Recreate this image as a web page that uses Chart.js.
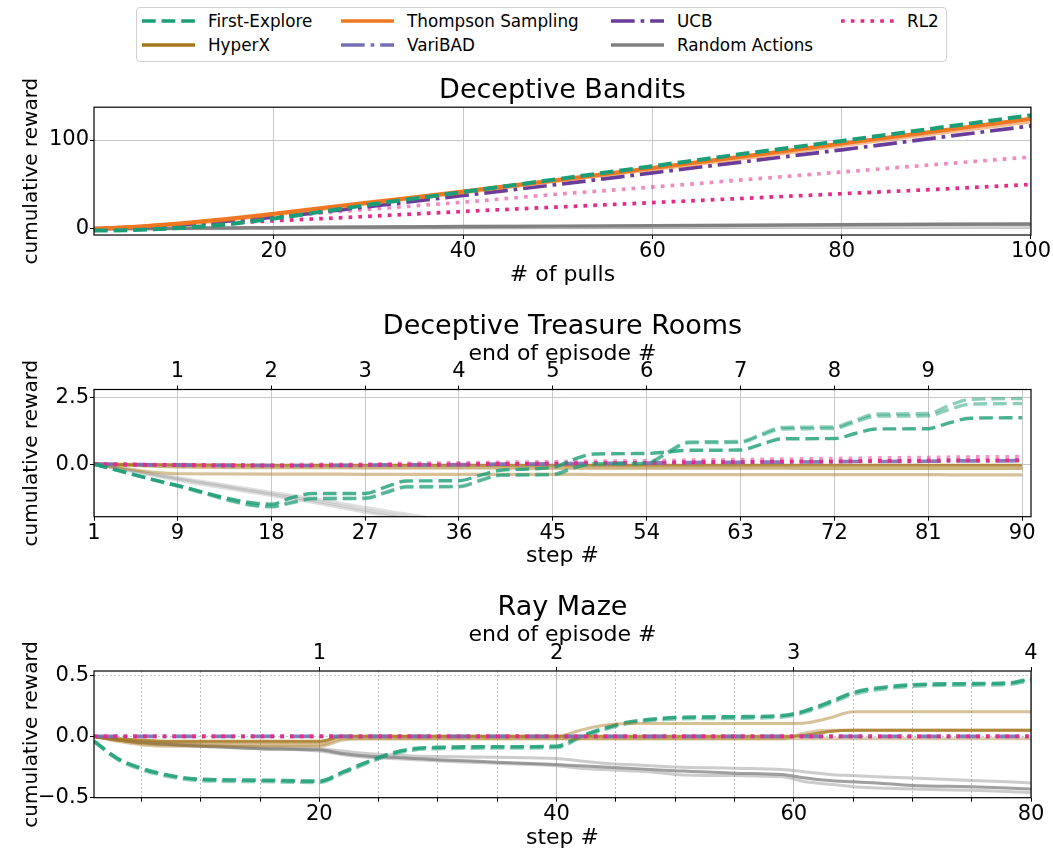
<!DOCTYPE html>
<html>
<head>
<meta charset="utf-8">
<script src="https://cdn.jsdelivr.net/npm/chart.js@4.4.1/dist/chart.umd.min.js"></script>
<style>
  html, body { margin: 0; padding: 0; background: #fff; overflow: hidden; width: 1053px; height: 849px; }
  body { position: relative; font-family: 'DejaVu Sans', sans-serif; }
  canvas { position: absolute; left: 0; }
  #legend { position: absolute; left: 136px; top: 7px; width: 809px; height: 53px;
            border: 1px solid #d0d0d0; border-radius: 4px; background: #fff; }
  .item { position: absolute; height: 20px; display: flex; align-items: center;
          font-size: 16.8px; white-space: nowrap; color: #000; }
  .item svg { margin-right: 13px; }
</style>
</head>
<body>
<div id="legend"></div>
<canvas id="bandits" width="1053" height="223" style="top:67px"></canvas>
<canvas id="rooms" width="1053" height="279" style="top:296px"></canvas>
<canvas id="maze" width="1053" height="286" style="top:576px"></canvas>
<script>
// ---- Deceptive Bandits ----
const pulls = [1, 5, 10, 15, 20, 30, 40, 50, 60, 70, 80, 90, 100];
const banditFirstExplore = [-2, -1.5, 1, 5, 11.5, 27, 41.5, 56, 70.5, 85, 99, 113.5, 128];
const banditThompson = [0, 2, 6, 11, 17, 29.5, 42, 55, 68.5, 82, 96, 110, 124];
const banditThompsonB = [0, 2, 5.5, 10, 16, 28.5, 41, 54, 67, 80, 94, 107.5, 121];
const banditUcb = [0, 1.5, 4.5, 8.5, 13, 25, 37.5, 50, 63, 76, 89, 102.5, 116];
const banditRl2A = [0, 2, 5, 9, 13.5, 22, 30, 39, 47, 55.5, 64, 72.5, 81];
const banditRl2B = [0, 1.5, 4, 6.5, 9, 14, 19.5, 24.5, 29.5, 34.5, 39.5, 44.5, 50];
const banditRandom = [0, 0.3, 0.6, 1, 1.3, 2, 2.5, 3, 3.5, 4, 4.5, 5, 5.5];
const banditRandomB = [0, 0.1, 0.3, 0.4, 0.6, 0.9, 1.2, 1.5, 1.8, 2.1, 2.4, 2.7, 3];
const pullTicks = [20, 40, 60, 80, 100];
const banditRewardTicks = [0, 100];

// ---- Deceptive Treasure Rooms ----
const roomSteps = [1, 9, 18, 20, 22, 27, 29, 31, 36, 38, 40, 45, 47, 49, 54, 56, 58, 63, 65, 67, 72, 74, 76, 81, 83, 85, 90];
const roomFirstExploreA = [0, -0.8, -1.5, -1.25, -1.1, -1.1, -0.85, -0.63, -0.62, -0.42, -0.23, -0.12, 0.18, 0.38, 0.4, 0.46, 0.52, 0.53, 0.75, 0.95, 0.96, 1.15, 1.32, 1.33, 1.55, 1.72, 1.74];
const roomFirstExploreB = [0, -0.82, -1.6, -1.45, -1.3, -1.29, -1.07, -0.86, -0.85, -0.63, -0.42, -0.4, -0.15, 0.02, 0.04, 0.45, 0.83, 0.85, 1.13, 1.38, 1.4, 1.65, 1.88, 1.9, 2.2, 2.43, 2.46];
const roomFirstExploreC = [0, -0.8, -1.58, -1.42, -1.28, -1.27, -1.05, -0.84, -0.83, -0.6, -0.4, -0.38, -0.13, 0.0, 0.02, 0.42, 0.8, 0.82, 1.08, 1.32, 1.34, 1.58, 1.8, 1.81, 2.05, 2.25, 2.27];
const roomRandomA = [0, -0.55, -1.12, -1.25, -1.37, -1.72, -1.85, -1.97, -2.3, -2.42, -2.55, -2.85, -2.97, -3.1, -3.4, -3.5, -3.62, -3.9, -4.0, -4.1, -4.4, -4.5, -4.6, -4.9, -5.0, -5.1, -5.4];
const roomRandomB = [0, -0.5, -1.05, -1.17, -1.29, -1.62, -1.75, -1.87, -2.2, -2.32, -2.45, -2.75, -2.87, -3.0, -3.3, -3.4, -3.52, -3.8, -3.9, -4.0, -4.3, -4.4, -4.5, -4.8, -4.9, -5.0, -5.3];
const roomRandomC = [0, -0.6, -1.18, -1.31, -1.44, -1.8, -1.93, -2.05, -2.4, -2.52, -2.65, -2.95, -3.07, -3.2, -3.5, -3.6, -3.72, -4.0, -4.1, -4.2, -4.5, -4.6, -4.7, -5.0, -5.1, -5.2, -5.5];
const roomHyperA = [0, -0.03, -0.04, -0.04, -0.04, -0.04, -0.04, -0.04, -0.04, -0.04, -0.04, -0.04, -0.04, -0.04, -0.04, -0.04, -0.04, -0.04, -0.04, -0.04, -0.04, -0.04, -0.04, -0.04, -0.04, -0.04, -0.04];
const roomHyperB = [0, -0.1, -0.13, -0.13, -0.13, -0.14, -0.14, -0.14, -0.14, -0.14, -0.14, -0.15, -0.15, -0.15, -0.15, -0.15, -0.15, -0.15, -0.15, -0.15, -0.16, -0.16, -0.16, -0.16, -0.16, -0.16, -0.16];
const roomHyperC = [0, -0.36, -0.37, -0.37, -0.37, -0.38, -0.38, -0.38, -0.38, -0.38, -0.38, -0.38, -0.38, -0.39, -0.39, -0.39, -0.39, -0.39, -0.39, -0.39, -0.39, -0.39, -0.39, -0.39, -0.4, -0.4, -0.4];
const roomVariBad = [0, -0.03, -0.05, -0.05, -0.05, -0.04, -0.03, -0.03, -0.02, -0.01, 0, 0.01, 0.02, 0.03, 0.04, 0.05, 0.06, 0.07, 0.08, 0.08, 0.09, 0.1, 0.1, 0.11, 0.12, 0.12, 0.13];
const roomRl2A = [0, -0.04, -0.06, -0.06, -0.05, -0.04, -0.03, -0.02, -0.01, 0, 0.01, 0.02, 0.03, 0.04, 0.05, 0.06, 0.07, 0.08, 0.09, 0.1, 0.1, 0.11, 0.12, 0.13, 0.14, 0.14, 0.15];
const roomRl2B = [0, -0.02, -0.03, -0.02, -0.01, 0, 0.02, 0.03, 0.05, 0.06, 0.07, 0.09, 0.1, 0.11, 0.13, 0.14, 0.15, 0.17, 0.18, 0.19, 0.21, 0.22, 0.23, 0.25, 0.26, 0.27, 0.28];
const roomStepTicks = [1, 9, 18, 27, 36, 45, 54, 63, 72, 81, 90];
const roomEpisodeTicks = [9, 18, 27, 36, 45, 54, 63, 72, 81];
const roomEpisodeLabels = ['1', '2', '3', '4', '5', '6', '7', '8', '9'];
const roomRewardTicks = [0, 2.5];

// ---- Ray Maze ----
const mazeSteps = [1, 3, 5, 8, 10, 15, 20, 22, 24, 26, 28, 30, 35, 40, 42, 44, 46, 48, 50, 55, 59, 61, 63, 65, 67, 70, 75, 78, 80];
const mazeFirstExploreA = [-0.04, -0.18, -0.26, -0.33, -0.35, -0.357, -0.365, -0.29, -0.21, -0.14, -0.1, -0.09, -0.085, -0.08, 0.0, 0.065, 0.115, 0.14, 0.154, 0.16, 0.17, 0.21, 0.28, 0.356, 0.394, 0.42, 0.43, 0.435, 0.47];
const mazeFirstExploreB = [-0.04, -0.19, -0.27, -0.34, -0.36, -0.368, -0.375, -0.3, -0.22, -0.15, -0.11, -0.1, -0.095, -0.09, -0.012, 0.055, 0.105, 0.13, 0.142, 0.148, 0.158, 0.198, 0.266, 0.342, 0.38, 0.408, 0.418, 0.423, 0.455];
const mazeHyperA = [0, -0.03, -0.05, -0.05, -0.05, -0.05, -0.05, 0, 0, 0, 0, 0, 0, 0, 0.05, 0.09, 0.105, 0.105, 0.105, 0.105, 0.105, 0.11, 0.15, 0.2, 0.2, 0.2, 0.2, 0.2, 0.2];
const mazeHyperB = [0, -0.02, -0.03, -0.04, -0.04, -0.04, -0.04, 0, 0, 0, 0, 0, 0, 0, 0, 0, 0, 0, 0, 0, 0, 0.01, 0.04, 0.05, 0.05, 0.05, 0.05, 0.05, 0.05];
const mazeHyperC = [0, -0.04, -0.07, -0.08, -0.08, -0.08, -0.08, -0.03, -0.02, -0.02, -0.02, -0.02, -0.02, -0.02, -0.02, -0.02, -0.02, -0.02, -0.02, -0.02, -0.02, 0.03, 0.05, 0.05, 0.05, 0.05, 0.05, 0.05, 0.05];
const mazeHyperD = [0, -0.03, -0.06, -0.07, -0.07, -0.07, -0.07, -0.02, -0.02, -0.02, -0.02, -0.02, -0.02, -0.02, -0.02, -0.02, -0.02, -0.02, -0.02, -0.02, -0.02, -0.02, -0.02, -0.02, -0.02, -0.02, -0.02, -0.02, -0.02];
const mazeRandomA = [0, -0.02, -0.04, -0.06, -0.07, -0.09, -0.1, -0.12, -0.14, -0.15, -0.16, -0.165, -0.17, -0.18, -0.2, -0.22, -0.23, -0.24, -0.25, -0.26, -0.27, -0.29, -0.31, -0.32, -0.33, -0.34, -0.36, -0.37, -0.38];
const mazeRandomB = [0, -0.03, -0.05, -0.07, -0.08, -0.1, -0.11, -0.14, -0.16, -0.17, -0.18, -0.19, -0.21, -0.23, -0.24, -0.25, -0.26, -0.27, -0.28, -0.3, -0.31, -0.34, -0.36, -0.37, -0.38, -0.4, -0.41, -0.42, -0.43];
const mazeRandomC = [0, -0.03, -0.05, -0.07, -0.08, -0.1, -0.12, -0.15, -0.17, -0.18, -0.19, -0.2, -0.22, -0.24, -0.26, -0.27, -0.28, -0.29, -0.31, -0.32, -0.33, -0.37, -0.39, -0.41, -0.42, -0.43, -0.44, -0.45, -0.46];
const mazeVariBad = [0, 0, 0, 0, 0, 0, 0, 0, 0, 0, 0, 0, 0, 0, 0, 0, 0, 0, 0, 0, 0, 0, 0, 0, 0, 0, 0, 0, 0];
const mazeRl2 = [0, 0, 0, 0, 0, 0, 0, 0, 0, 0, 0, 0, 0, 0, 0, 0, 0, 0, 0, 0, 0, 0, 0, 0, 0, 0, 0, 0, 0];
const mazeStepTicks = [5, 10, 15, 20, 25, 30, 35, 40, 45, 50, 55, 60, 65, 70, 75, 80];
const mazeStepLabelTicks = [20, 40, 60, 80];
const mazeEpisodeTicks = [20, 40, 60, 80];
const mazeEpisodeLabels = ['1', '2', '3', '4'];
const mazeRewardTicks = [-0.5, 0, 0.5];

// ---- styles ----
const COLORS = {
  fe: '#1b9e77', ts: '#ef7721', ucb: '#6a3d9a', rl2: '#e7298a',
  hyperx: '#a6761d', varibad: '#7570b3', random: '#808080'
};
const DASHED = [13.7, 5.9];
const DASHDOT = [23.7, 5.9, 3.7, 5.9];
const DOTTED = [3.7, 6.1];
const GRID = '#c8c8c8';
const TICK_FONT = { size: 21, lineHeight: 1.0 };
const AXIS_TITLE_FONT = { size: 22, lineHeight: 1.0 };

Chart.defaults.font.family = "'DejaVu Sans', sans-serif";
Chart.defaults.color = '#000';

function fade(hex, a) {
  const n = parseInt(hex.slice(1), 16);
  return `rgba(${n >> 16}, ${(n >> 8) & 255}, ${n & 255}, ${a})`;
}

function line(xs, ys, color, width, dash, alpha) {
  return {
    data: xs.map((x, i) => ({ x, y: ys[i] })),
    borderColor: fade(color, alpha),
    borderWidth: width,
    borderDash: dash,
    pointRadius: 0,
    cubicInterpolationMode: 'monotone',
    fill: false
  };
}

// legend
const legendItems = [
  ['First-Explore', COLORS.fe, DASHED, 0, 0],
  ['Thompson Sampling', COLORS.ts, [], 1, 0],
  ['UCB', COLORS.ucb, DASHDOT, 2, 0],
  ['RL2', COLORS.rl2, DOTTED, 3, 0],
  ['HyperX', COLORS.hyperx, [], 0, 1],
  ['VariBAD', COLORS.varibad, DASHDOT, 1, 1],
  ['Random Actions', COLORS.random, [], 2, 1]
];
const legendCols = [5, 204, 474, 704];
const legendRows = [3, 27];
const legendEl = document.getElementById('legend');
legendItems.forEach(([label, color, dash, col, row]) => {
  const div = document.createElement('div');
  div.className = 'item';
  div.style.left = legendCols[col] + 'px';
  div.style.top = legendRows[row] + 'px';
  div.innerHTML = `<svg width="53" height="10"><line x1="0" y1="5" x2="53" y2="5" stroke="${color}" stroke-width="3.7" stroke-dasharray="${dash.join(' ')}"/></svg><span>${label}</span>`;
  legendEl.appendChild(div);
});

const frame = {
  id: 'frame',
  afterDatasetsDraw(chart) {
    const { ctx, chartArea: a } = chart;
    ctx.save();
    ctx.strokeStyle = '#000';
    ctx.lineWidth = 1.2;
    ctx.strokeRect(a.left, a.top, a.right - a.left, a.bottom - a.top);
    ctx.restore();
  }
};

function yAxis(min, max, ticks, fmt, dash) {
  return {
    min, max,
    afterFit: s => { s.width = 94; },
    afterBuildTicks: s => { s.ticks = ticks.map(v => ({ value: v })); },
    ticks: { font: TICK_FONT, padding: 1, callback: fmt },
    grid: { color: GRID, tickLength: 4, tickColor: '#000' },
    border: { display: false, dash },
    title: { display: true, text: 'cumulative reward', font: { size: 20, lineHeight: 1.2 }, padding: { top: 20, bottom: 0 } }
  };
}

function xAxis(pos, min, max, ticks, fmt, height, title, titlePad, opts = {}) {
  return {
    type: 'linear', position: pos, min, max,
    afterFit: s => { s.height = height; },
    afterBuildTicks: s => { s.ticks = ticks.map(v => ({ value: v })); },
    ticks: { font: TICK_FONT, padding: opts.pad ?? 2, maxRotation: 0, autoSkip: false, callback: fmt },
    grid: { color: opts.gridColor || GRID, tickLength: 4, tickColor: '#000' },
    border: { display: false, dash: opts.dash || [] },
    title: { display: true, text: title, font: AXIS_TITLE_FONT, padding: titlePad }
  };
}

function makeChart(id, title, titlePadTop, datasets, scales) {
  return new Chart(document.getElementById(id), {
    type: 'line',
    data: { datasets: datasets.slice().reverse() },
    options: {
      responsive: false,
      animation: false,
      devicePixelRatio: 1,
      layout: { padding: { left: 0, right: 22, top: 0, bottom: 0 } },
      plugins: {
        legend: { display: false },
        tooltip: { enabled: false },
        title: {
          display: true, text: title, fullSize: false, color: '#000',
          font: { size: 27, weight: 'normal', lineHeight: 1.2 },
          padding: { top: titlePadTop, bottom: 0 }
        }
      },
      scales
    },
    plugins: [frame]
  });
}

const fmt1 = v => v.toFixed(1).replace('-', '\u2212');

// chart 1, bottom to top
makeChart('bandits', 'Deceptive Bandits', 7.8, [
  line(pulls, banditRandomB, COLORS.random, 3.5, [], 0.35),
  line(pulls, banditRandom, COLORS.random, 3.5, [], 1),
  line(pulls, banditRl2A, COLORS.rl2, 3.7, DOTTED, 0.55),
  line(pulls, banditRl2B, COLORS.rl2, 3.7, DOTTED, 1),
  line(pulls, banditUcb, COLORS.ucb, 3.7, DASHDOT, 1),
  line(pulls, banditThompsonB, COLORS.ts, 4, [], 0.5),
  line(pulls, banditThompson, COLORS.ts, 4, [], 1),
  line(pulls, banditFirstExplore, COLORS.fe, 4, DASHED, 1)
], {
  x: xAxis('bottom', 1, 100, pullTicks, v => String(v), 55, '# of pulls', { top: 0, bottom: 4 }),
  y: yAxis(-7, 137, banditRewardTicks, v => String(v), [])
});

// chart 2
makeChart('rooms', 'Deceptive Treasure Rooms', 14.8, [
  line(roomSteps, roomRandomA, COLORS.random, 3, [], 0.3),
  line(roomSteps, roomRandomB, COLORS.random, 3, [], 0.25),
  line(roomSteps, roomRandomC, COLORS.random, 3, [], 0.25),
  line(roomSteps, roomHyperC, COLORS.hyperx, 3.2, [], 0.45),
  line(roomSteps, roomHyperB, COLORS.hyperx, 3.2, [], 0.55),
  line(roomSteps, roomHyperA, COLORS.hyperx, 3.2, [], 0.8),
  line(roomSteps, roomVariBad, COLORS.varibad, 3.7, DASHDOT, 0.9),
  line(roomSteps, roomRl2B, COLORS.rl2, 3.7, DOTTED, 0.5),
  line(roomSteps, roomRl2A, COLORS.rl2, 3.7, DOTTED, 1),
  line(roomSteps, roomFirstExploreB, COLORS.fe, 3.4, DASHED, 0.5),
  line(roomSteps, roomFirstExploreC, COLORS.fe, 3.4, DASHED, 0.5),
  line(roomSteps, roomFirstExploreA, COLORS.fe, 3.4, DASHED, 0.8)
], {
  x: xAxis('bottom', 1, 90.85, roomStepTicks, v => String(v), 58.3, 'step #', { top: 0, bottom: 8 }),
  x2: xAxis('top', 1, 90.85, roomEpisodeTicks, v => roomEpisodeLabels[roomEpisodeTicks.indexOf(v)], 46.3, 'end of episode #', { top: 0, bottom: 0 }, { pad: 3 }),
  y: yAxis(-1.97, 2.8, roomRewardTicks, fmt1, [])
});

// chart 3
makeChart('maze', 'Ray Maze', 15.8, [
  line(mazeSteps, mazeRandomA, COLORS.random, 3, [], 0.4),
  line(mazeSteps, mazeRandomC, COLORS.random, 3, [], 0.4),
  line(mazeSteps, mazeRandomB, COLORS.random, 3, [], 0.75),
  line(mazeSteps, mazeFirstExploreB, COLORS.fe, 3.6, DASHED, 0.5),
  line(mazeSteps, mazeFirstExploreA, COLORS.fe, 3.6, DASHED, 0.85),
  line(mazeSteps, mazeHyperD, COLORS.hyperx, 3, [], 0.4),
  line(mazeSteps, mazeHyperC, COLORS.hyperx, 3, [], 0.4),
  line(mazeSteps, mazeHyperA, COLORS.hyperx, 3, [], 0.45),
  line(mazeSteps, mazeHyperB, COLORS.hyperx, 3, [], 0.8),
  line(mazeSteps, mazeVariBad, COLORS.varibad, 3.7, DASHDOT, 0.9),
  line(mazeSteps, mazeRl2, COLORS.rl2, 3.7, DOTTED, 1)
], {
  x: xAxis('bottom', 1, 80, mazeStepTicks, v => mazeStepLabelTicks.includes(v) ? String(v) : '', 64.3, 'step #', { top: 0, bottom: 13 }, { dash: [2, 2], gridColor: '#bdbdbd' }),
  x2: xAxis('top', 1, 80, mazeEpisodeTicks, v => mazeEpisodeLabels[mazeEpisodeTicks.indexOf(v)], 46.8, 'end of episode #', { top: 0, bottom: 0 }, { pad: 3, gridColor: '#bdbdbd' }),
  y: yAxis(-0.5, 0.533, mazeRewardTicks, fmt1, [2, 2])
});
</script>
</body>
</html>
